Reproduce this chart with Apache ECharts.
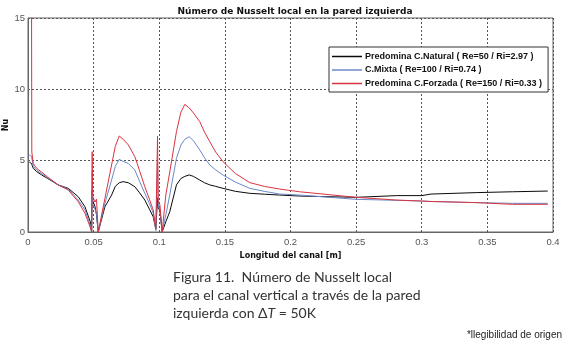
<!DOCTYPE html>
<html>
<head>
<meta charset="utf-8">
<script src="https://cdn.jsdelivr.net/npm/echarts@6/dist/echarts.min.js"></script>
<style>
  html, body { margin: 0; padding: 0; background: #fff; }
  #chart { width: 579px; height: 346px; }
</style>
</head>
<body>
<div id="chart"></div>
<script>
// x positions along the channel [m]
const xs = [0.001, 0.0027, 0.0029, 0.004, 0.0066, 0.0104, 0.015, 0.023, 0.0307, 0.0383, 0.0434, 0.0475, 0.0485,
  0.0489, 0.0493, 0.051, 0.0522, 0.0535, 0.0586, 0.0637, 0.0665, 0.0695, 0.0725, 0.0765, 0.0814, 0.085,
  0.089, 0.0925, 0.0954, 0.0974,
  0.0987, 0.0992, 0.1005, 0.1022, 0.105, 0.108, 0.1131, 0.1165, 0.1195, 0.1228, 0.126, 0.1309, 0.1345,
  0.1385, 0.143, 0.1486, 0.158, 0.169, 0.18,
  0.1918, 0.207, 0.25, 0.2806, 0.3, 0.307, 0.3415, 0.369, 0.396];

const natural = [4.9, 4.8, 4.75, 4.46, 4.23, 4.0, 3.75, 3.3, 3.06, 2.47, 1.77, 0.7, 0.05,
  2.94, 2.2, 1.8, 1.2, 0.0, 1.77, 2.59, 3.2, 3.45, 3.53, 3.45, 3.17, 2.75,
  2.24, 1.6, 1.07, 0.2,
  2.4, 1.7, 1.5, 0.0, 0.72, 1.42, 3.3, 3.75, 3.9, 4.0, 3.9, 3.64, 3.45,
  3.3, 3.2, 3.06, 2.85, 2.71, 2.65,
  2.59, 2.52, 2.43, 2.55, 2.55, 2.66, 2.76, 2.82, 2.87];

const mixta = [5.4, 5.3, 5.25, 4.6, 4.34, 4.1, 3.8, 3.3, 3.0, 2.24, 1.55, 0.45, 0.0,
  4.3, 2.0, 1.6, 1.3, 0.0, 2.01, 3.64, 4.6, 5.09, 4.95, 4.8, 4.34, 3.55,
  2.71, 2.0, 1.33, 0.1,
  4.9, 1.9, 1.6, 0.0, 1.2, 2.6, 5.16, 6.1, 6.5, 6.68, 6.4, 5.75, 5.2,
  4.7, 4.35, 3.99, 3.5, 3.06, 2.85,
  2.66, 2.59, 2.29, 2.22, 2.17, 2.14, 2.06, 2.01, 2.01];

const forzada = [16, 16, 5.6, 4.8, 4.46, 4.2, 3.85, 3.3, 2.94, 2.12, 1.31, 0.3, 0.0,
  5.63, 2.5, 2.1, 2.3, 0.0, 2.36, 4.7, 6.0, 6.73, 6.5, 6.1, 5.28, 4.3,
  3.17, 2.3, 1.54, 0.2,
  6.73, 2.2, 1.9, 0.0, 2.6, 4.2, 7.03, 8.4, 8.95, 8.7, 8.35, 7.73, 7.0,
  6.33, 5.6, 4.93, 4.1, 3.46, 3.2,
  3.01, 2.82, 2.43, 2.24, 2.17, 2.14, 2.06, 1.94, 1.94];

const seriesNames = [
  'Predomina C.Natural ( Re=50 / Ri=2.97 )',
  'C.Mixta ( Re=100 / Ri=0.74 )',
  'Predomina C.Forzada ( Re=150 / Ri=0.33 )'
];
const seriesColors = ['#0a0a0a', '#6a88c8', '#d8343f'];
const seriesValues = [natural, mixta, forzada];

const chart = echarts.init(document.getElementById('chart'));

const pairs = vals => xs.map((x, i) => [x, vals[i]]);

const gridLine = { show: true, lineStyle: { color: '#555', type: [2, 2], width: 1 } };
const axisText = { color: '#555', fontSize: 9.5, fontFamily: 'Liberation Sans' };

const option = {
  animation: false,
  backgroundColor: '#fff',
  title: {
    text: 'Número de Nusselt local en la pared izquierda',
    left: 290, top: 2, textAlign: 'center',
    textStyle: { fontSize: 9, fontWeight: 'bold', color: '#111', fontFamily: 'DejaVu Sans' }
  },
  grid: {
    left: 28, right: 26, top: 18, bottom: 114,
    outerBoundsMode: 'none', containLabel: false,
    show: true, borderColor: '#666', borderWidth: 1
  },
  legend: {
    data: seriesNames,
    orient: 'vertical',
    left: 329, top: 47,
    itemWidth: 30, itemHeight: 1.5, itemGap: 4.5,
    padding: [5, 6, 4, 3],
    borderColor: '#333', borderWidth: 1,
    backgroundColor: '#fff',
    icon: 'rect',
    textStyle: { fontSize: 9, fontWeight: 'bold', color: '#111', fontFamily: 'Liberation Sans', padding: [0, 0, 0, -2] }
  },
  xAxis: {
    type: 'value', min: 0, max: 0.4, interval: 0.05,
    name: 'Longitud del canal [m]', nameLocation: 'middle', nameGap: 18,
    nameTextStyle: { fontSize: 8, fontWeight: 'bold', color: '#111', fontFamily: 'DejaVu Sans' },
    axisLine: { lineStyle: { color: '#666' } },
    axisTick: { show: false },
    axisLabel: Object.assign({ margin: 5 }, axisText),
    splitLine: gridLine
  },
  yAxis: {
    type: 'value', min: 0, max: 15, interval: 5,
    axisLine: { show: true, lineStyle: { color: '#666' } },
    axisTick: { show: false },
    axisLabel: Object.assign({ margin: 3 }, axisText),
    splitLine: gridLine
  },
  series: seriesNames.map((name, k) => ({
    name: name,
    type: 'line',
    data: pairs(seriesValues[k]),
    showSymbol: false,
    clip: true,
    color: seriesColors[k],
    lineStyle: { width: 1, color: seriesColors[k] }
  })),
  graphic: [
    {
      type: 'text', x: 6, y: 125, rotation: Math.PI / 2,
      style: {
        text: 'Nu', align: 'center', verticalAlign: 'middle',
        font: 'bold 8px "DejaVu Sans"', fill: '#111'
      }
    },
    {
      type: 'text', left: 173, top: 268,
      style: {
        text: 'Figura 11.  Número de Nusselt local\npara el canal vertical a través de la pared\n{a|izquierda con Δ}{i|T}{a| = 50K}',
        font: '14px Lato', fill: '#333', lineHeight: 18,
        rich: {
          a: { font: '14px Lato', fill: '#333' },
          i: { font: 'italic 14px Lato', fill: '#333' }
        }
      }
    },
    {
      type: 'text', right: 17, top: 330,
      style: { text: '*llegibilidad de origen', font: '10px "Liberation Sans"', fill: '#222' }
    }
  ]
};

chart.setOption(option);
</script>
</body>
</html>
